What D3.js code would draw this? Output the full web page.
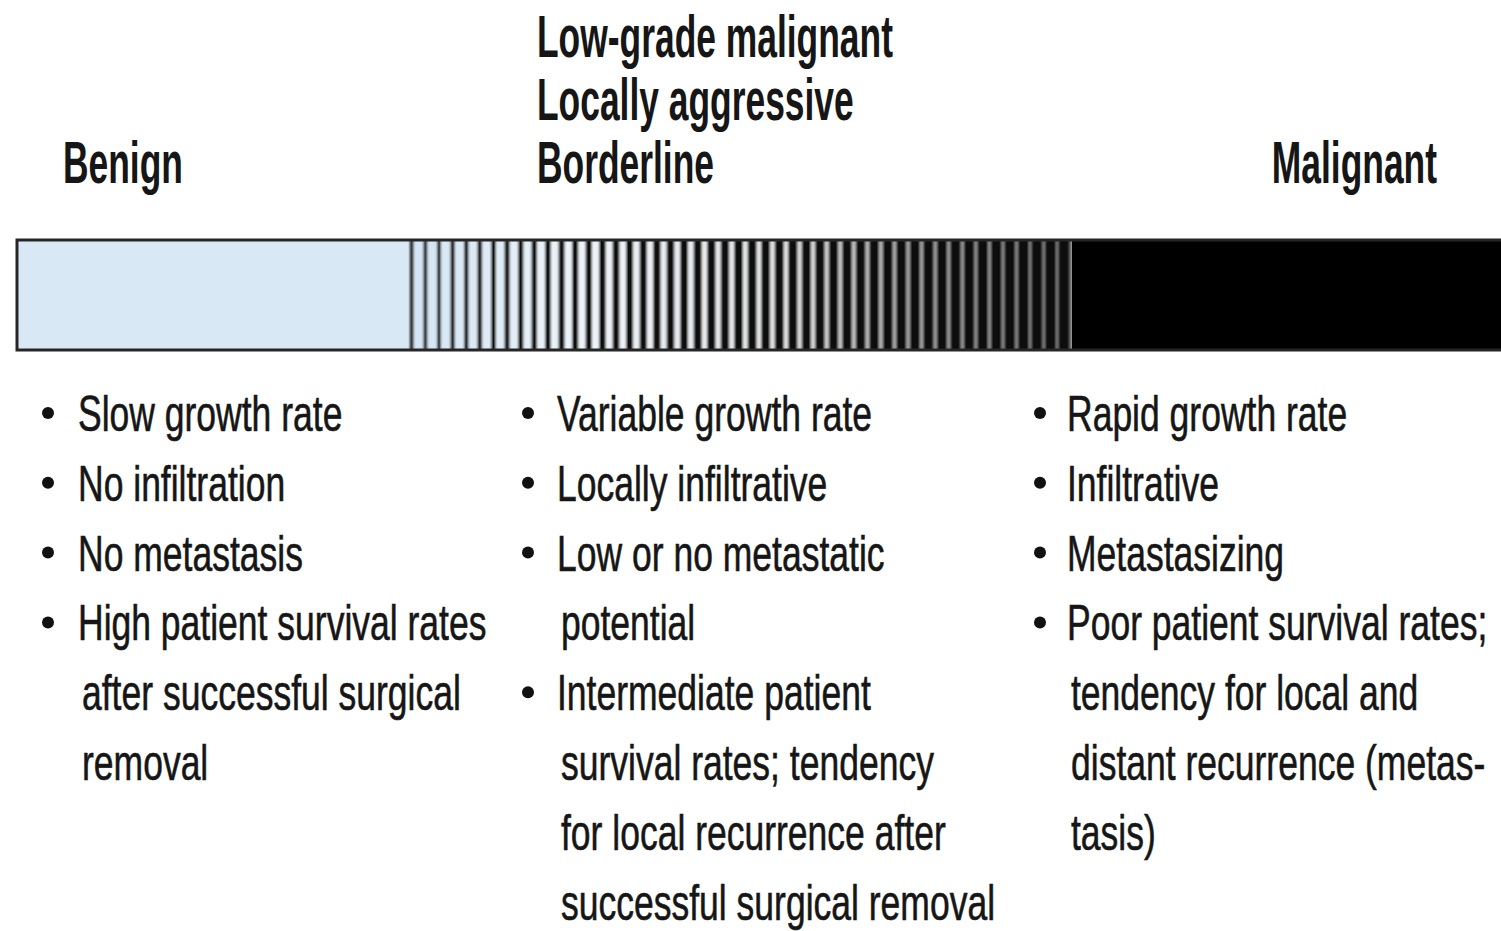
<!DOCTYPE html>
<html>
<head>
<meta charset="utf-8">
<script src="https://cdn.jsdelivr.net/npm/d3@7/dist/d3.min.js"></script>
<style>
	html, body { margin: 0; padding: 0; background: #fff; overflow: hidden; }
	#tumor-spectrum text { font-family: 'Liberation Sans', Arial, Helvetica, sans-serif; fill: #161616; }
	#tumor-spectrum .spectrum-lists text { stroke: #161616; stroke-width: 0.6; }
</style>
</head>
<body>
<div id="tumor-spectrum"></div>
<script>
// Category headings (lines stacked upward from the shared baseline)
const headerLines = [['Benign'], ['Low-grade malignant', 'Locally aggressive', 'Borderline'], ['Malignant']];

// Bullet lists, one array per category; each item is a list of wrapped lines
const benignItems = [['Slow growth rate'], ['No infiltration'], ['No metastasis'], ['High patient survival rates', 'after successful surgical', 'removal']];
const borderlineItems = [
	['Variable growth rate'],
	['Locally infiltrative'],
	['Low or no metastatic', 'potential'],
	['Intermediate patient', 'survival rates; tendency', 'for local recurrence after', 'successful surgical removal'],
];
const malignantItems = [['Rapid growth rate'], ['Infiltrative'], ['Metastasizing'], ['Poor patient survival rates;', 'tendency for local and', 'distant recurrence (metas-', 'tasis)']];

// Striped transition between benign and malignant
const stripeCount = 49;
const stripeDutyStops = [0.26, 0.64, 0.82];
const stripeLightStops = ['#d4e5f3', '#eef4f9', '#e4e4e4', '#a4a4a4', '#7c7c7c'];

const SPECTRUM = {
	id: 'tumor-spectrum',
	width: 1501,
	height: 931,
	svg: null,
	bar: { left: 17, top: 240, height: 110, stripeStart: 410, stripeEnd: 1072 },
	header: { x: [63, 537, 1437], anchor: ['start', 'start', 'end'], baseline: 183, lineStep: 63, size: 60, squeeze: 0.59 },
	list: { bulletX: [48, 528, 1040], textX: [78, 557, 1067], indent: 4, firstBaseline: 431, lineStep: 69.8, size: 50, squeeze: 0.71 },

	drawBar: function () {
		const b = SPECTRUM.bar;
		const defs = SPECTRUM.svg.append('defs');
		defs.append('filter').attr('id', 'soft').append('feGaussianBlur').attr('stdDeviation', '0.8 0');

		const g = SPECTRUM.svg.append('g').attr('class', 'spectrum-bar');

		// Benign part
		g.append('rect').attr('x', b.left).attr('y', b.top).attr('width', b.stripeStart - b.left).attr('height', b.height).attr('fill', '#d9e8f5');

		// Stripes
		const stripeX = d3.scaleLinear().domain([0, stripeCount]).range([b.stripeStart, b.stripeEnd]);
		const duty = d3.scaleLinear().domain([0, 0.5, 1]).range(stripeDutyStops);
		const light = d3.scaleLinear().domain([0, 0.25, 0.55, 0.75, 1]).range(stripeLightStops);
		const period = stripeX(1) - stripeX(0);
		const stripeGroup = g.append('g').attr('filter', 'url(#soft)');
		const stripes = stripeGroup.selectAll('.stripe').data(d3.range(stripeCount)).enter().append('g').attr('class', 'stripe');

		stripes
			.append('rect')
			.attr('x', (d) => stripeX(d))
			.attr('y', b.top)
			.attr('width', period + 0.5)
			.attr('height', b.height)
			.attr('fill', (d) => light(d / (stripeCount - 1)));

		stripes
			.append('rect')
			.attr('x', (d) => stripeX(d))
			.attr('y', b.top)
			.attr('width', (d) => period * duty(d / (stripeCount - 1)))
			.attr('height', b.height)
			.attr('fill', '#0a0a0a');

		// Malignant part
		g.append('rect').attr('x', b.stripeEnd).attr('y', b.top).attr('width', SPECTRUM.width - b.stripeEnd + 10).attr('height', b.height).attr('fill', '#000');

		// Outline
		g.append('rect')
			.attr('x', b.left)
			.attr('y', b.top)
			.attr('width', SPECTRUM.width - b.left + 10)
			.attr('height', b.height)
			.attr('fill', 'none')
			.attr('stroke', '#262626')
			.attr('stroke-width', 3);
	},

	drawHeaders: function () {
		const h = SPECTRUM.header;
		const g = SPECTRUM.svg.append('g').attr('class', 'spectrum-headers');

		headerLines.forEach((lines, i) => {
			lines.forEach((line, j) => {
				const y = h.baseline - (lines.length - 1 - j) * h.lineStep;
				g.append('text')
					.attr('transform', `translate(${h.x[i]},${y}) scale(${h.squeeze},1)`)
					.attr('text-anchor', h.anchor[i])
					.attr('font-size', h.size)
					.attr('font-weight', 'bold')
					.text(line);
			});
		});
	},

	drawLists: function () {
		const l = SPECTRUM.list;
		const rowY = d3.scaleLinear().domain([0, 1]).range([l.firstBaseline, l.firstBaseline + l.lineStep]);
		const g = SPECTRUM.svg.append('g').attr('class', 'spectrum-lists');

		[benignItems, borderlineItems, malignantItems].forEach((items, col) => {
			let row = 0;
			items.forEach((item) => {
				g.append('circle')
					.attr('cx', l.bulletX[col])
					.attr('cy', rowY(row) - 18)
					.attr('r', 6)
					.attr('fill', '#111');

				item.forEach((line, j) => {
					const x = l.textX[col] + (j > 0 ? l.indent : 0);
					g.append('text')
						.attr('transform', `translate(${x},${rowY(row)}) scale(${l.squeeze},1)`)
						.attr('font-size', l.size)
						.text(line);
					row++;
				});
			});
		});
	},

	init: function () {
		SPECTRUM.svg = d3
			.select('#' + SPECTRUM.id)
			.append('svg')
			.attr('width', SPECTRUM.width)
			.attr('height', SPECTRUM.height)
			.style('display', 'block');

		SPECTRUM.svg.append('rect').attr('width', SPECTRUM.width).attr('height', SPECTRUM.height).attr('fill', '#fff');

		SPECTRUM.drawBar();
		SPECTRUM.drawHeaders();
		SPECTRUM.drawLists();
	},
};

SPECTRUM.init();
</script>
</body>
</html>
